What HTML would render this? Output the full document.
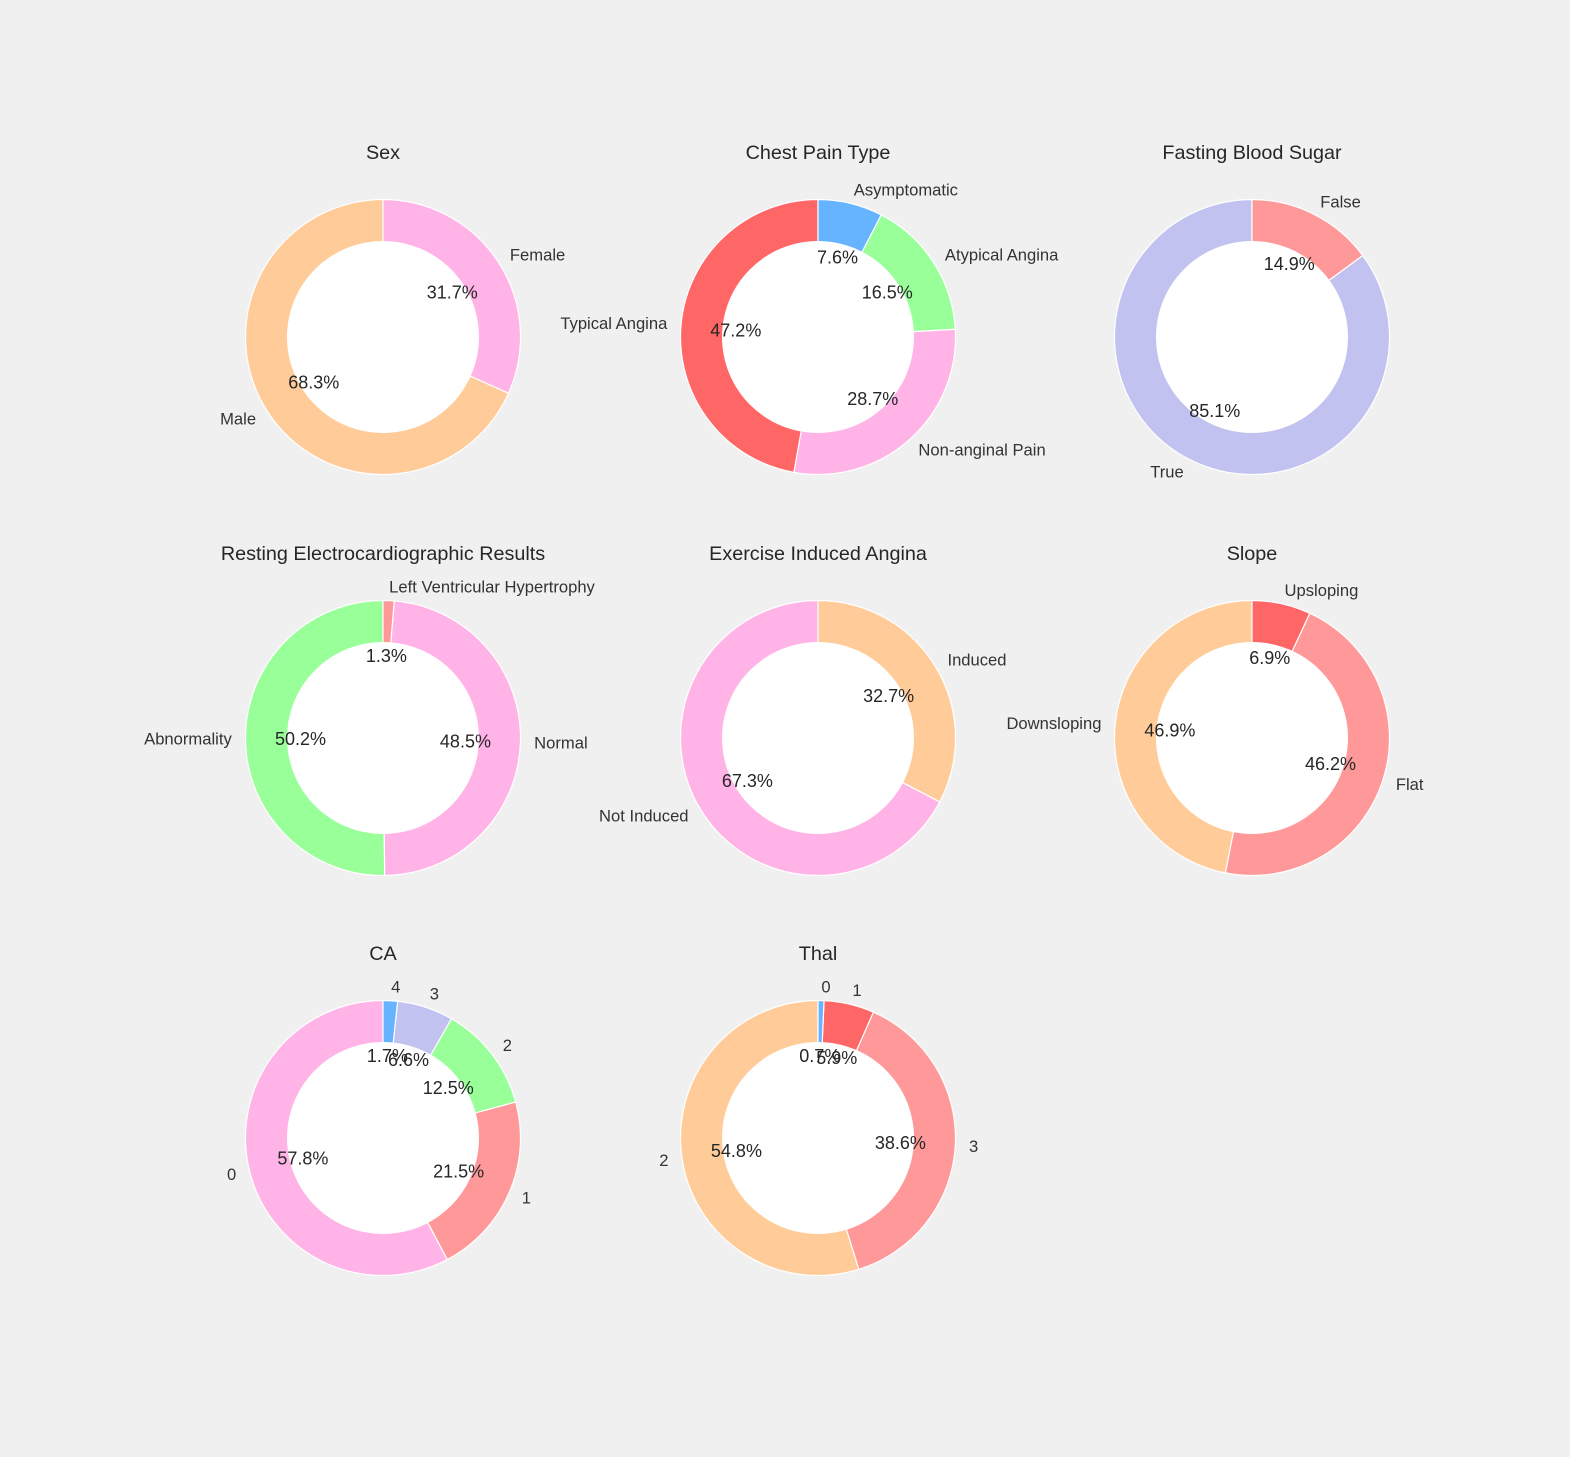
<!DOCTYPE html>
<html><head><meta charset="utf-8">
<style>
html,body{margin:0;padding:0;background:#f0f0f0;}
svg{display:block;font-family:"Liberation Sans",Arial,sans-serif;}
</style></head>
<body>
<svg id="fig" width="1570" height="1457" viewBox="0 0 1570 1457"></svg>
<script>
// Chart data
const titles = ["Sex","Chest Pain Type","Fasting Blood Sugar","Resting Electrocardiographic Results","Exercise Induced Angina","Slope","CA","Thal"];
const sexLabels = ["Male","Female"];
const sexValues = [68.3,31.7];
const cpLabels = ["Typical Angina","Non-anginal Pain","Atypical Angina","Asymptomatic"];
const cpValues = [47.2,28.7,16.5,7.6];
const fbsLabels = ["True","False"];
const fbsValues = [85.1,14.9];
const ecgLabels = ["Abnormality","Normal","Left Ventricular Hypertrophy"];
const ecgValues = [50.2,48.5,1.3];
const exLabels = ["Not Induced","Induced"];
const exValues = [67.3,32.7];
const slopeLabels = ["Downsloping","Flat","Upsloping"];
const slopeValues = [46.9,46.2,6.9];
const caLabels = ["0","1","2","3","4"];
const caValues = [57.8,21.5,12.5,6.6,1.7];
const thalLabels = ["2","3","1","0"];
const thalValues = [54.8,38.6,5.9,0.7];

const allLabels = [sexLabels,cpLabels,fbsLabels,ecgLabels,exLabels,slopeLabels,caLabels,thalLabels];
const allValues = [sexValues,cpValues,fbsValues,ecgValues,exValues,slopeValues,caValues,thalValues];
const colorMap = {
 "Male":"#ffcc99","Female":"#ffb3e6",
 "Typical Angina":"#ff6666","Non-anginal Pain":"#ffb3e6","Atypical Angina":"#99ff99","Asymptomatic":"#66b3ff",
 "True":"#c2c2f0","False":"#ff9999",
 "Abnormality":"#99ff99","Normal":"#ffb3e6","Left Ventricular Hypertrophy":"#ff9999",
 "Not Induced":"#ffb3e6","Induced":"#ffcc99",
 "Downsloping":"#ffcc99","Flat":"#ff9999","Upsloping":"#ff6666"
};
const caColors = ["#ffb3e6","#ff9999","#99ff99","#c2c2f0","#66b3ff"];
const thalColors = ["#ffcc99","#ff9999","#ff6666","#66b3ff"];

const NS = "http://www.w3.org/2000/svg";
const svg = document.getElementById("fig");
const colX = [383,818,1252], rowY = [337,738,1138];
const R = 137.5, r = 96;
function mk(tag, attrs, parent){
  const e = document.createElementNS(NS, tag);
  for (const k in attrs) e.setAttribute(k, attrs[k]);
  parent.appendChild(e); return e;
}
function pt(cx, cy, rad, deg){ const a = deg*Math.PI/180; return [cx+rad*Math.cos(a), cy-rad*Math.sin(a)]; }

allValues.forEach((vals, i) => {
  const cx = colX[i%3], cy = rowY[Math.floor(i/3)];
  const labels = allLabels[i];
  const g = mk("g", {}, svg);
  
  
  const t = mk("text", {x:cx, y:cy-178, "text-anchor":"middle", "font-size":19.8, fill:"#262626"}, g);
  t.textContent = titles[i];
  
  
  const total = vals.reduce((a,b)=>a+b,0);
  let start = 90;
  const texts = [];
  vals.forEach((v, j) => {
    const sweep = v/total*360, end = start + sweep;
    const col = i===6 ? caColors[j] : i===7 ? thalColors[j] : colorMap[labels[j]];
    const p1 = pt(cx,cy,R,start), p2 = pt(cx,cy,R,end);
    const large = sweep>180?1:0;
    const d = `M${cx},${cy} L${p1[0]},${p1[1]} A${R},${R} 0 ${large} 0 ${p2[0]},${p2[1]} Z`;
    const w = mk("path", {d:d, fill:col, stroke:"#ffffff", "stroke-width":1.2}, g);
    
    
    const mid = (start+end)/2, rad = mid*Math.PI/180;
    const lp = pt(cx,cy,R*1.1,mid), pp = pt(cx,cy,R*0.6,mid);
    texts.push({label:labels[j], lp, pp, cosv:Math.cos(rad), v});
    start = end;
  });
  const hole = mk("circle", {cx:cx, cy:cy, r:r, fill:"#ffffff"}, g);
  
  
  texts.forEach(o => {
    const lt = mk("text", {x:o.lp[0], y:o.lp[1]+5.5, "text-anchor":o.cosv<0?"end":"start", "font-size":16.6, fill:"#333"}, g);
    lt.textContent = o.label;
    
    
    const pc = mk("text", {x:o.pp[0], y:o.pp[1]+6.5, "text-anchor":"middle", "font-size":18, fill:"#262626"}, g);
    pc.textContent = o.v.toFixed(1) + "%";
    
    
  });
});
</script>
</body></html>
